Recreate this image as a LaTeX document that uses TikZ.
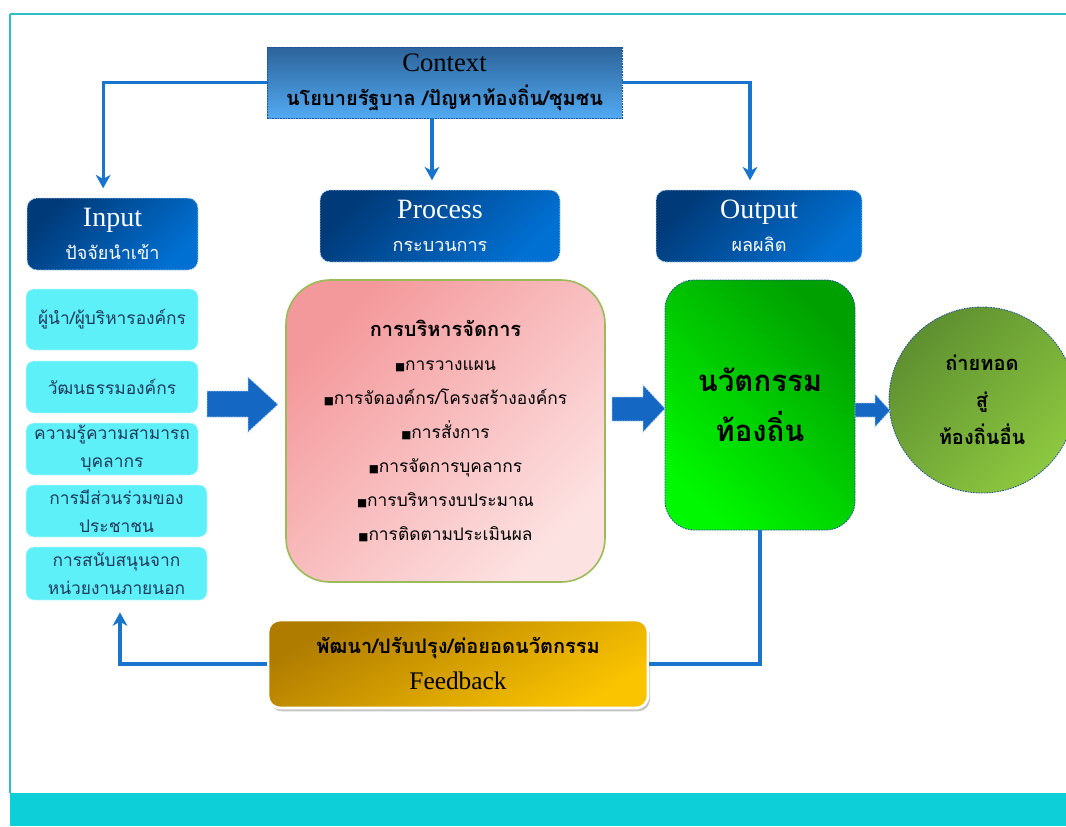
\documentclass[tikz,border=0pt]{standalone}
\usepackage{fontspec}
\setmainfont{Liberation Serif}
\newfontfamily\thfont[Script=Thai]{Loma}
\newfontfamily\sqfont{DejaVu Sans}
\usetikzlibrary{arrows.meta,shadows,calc}

\definecolor{frameteal}{HTML}{2EBFC4}
\definecolor{band}{HTML}{0CCFD8}
\definecolor{flow}{HTML}{1874CD}
\definecolor{blockblue}{HTML}{1468C4}
\definecolor{navy}{HTML}{003A78}
\definecolor{royal}{HTML}{0070D2}
\definecolor{ctxtop}{HTML}{2C6399}
\definecolor{ctxbot}{HTML}{52AAF2}
\definecolor{cyanbox}{HTML}{5EF0F8}
\definecolor{cyantext}{HTML}{1F3A5C}
\definecolor{pinkA}{HTML}{F4999B}
\definecolor{pinkB}{HTML}{FDE2E2}
\definecolor{olive}{HTML}{9BBB59}
\definecolor{greenA}{HTML}{00A000}
\definecolor{greenB}{HTML}{00F800}
\definecolor{leafA}{HTML}{5E9030}
\definecolor{leafB}{HTML}{8DC840}
\definecolor{goldA}{HTML}{B07C00}
\definecolor{goldB}{HTML}{FAC400}
\definecolor{dashblue}{HTML}{1F4E9A}

\newcommand\sqb{{\sqfont\fontsize{8}{8}\selectfont ■}}

\begin{document}
\begin{tikzpicture}[x=0.75pt,y=-0.75pt,
  finedash/.style={dash pattern=on 1.2pt off 0.8pt, line width=0.6pt},
  ctxbox/.style={top color=ctxtop, bottom color=ctxbot, draw=dashblue, finedash,
    align=center, inner sep=0pt,
    font=\fontsize{20}{25.5}\selectfont},
  headbox/.style={rounded corners=7.5pt, top color=navy, bottom color=royal,
    shading angle=45, draw=white!75!royal, finedash, text=white, align=center,
    inner sep=0pt, minimum height=54pt, font=\fontsize{21}{24.5}\selectfont},
  inbox/.style={rounded corners=6pt, fill=cyanbox, draw=white!60!cyanbox, finedash,
    text=cyantext, align=center, inner sep=0pt,
    font=\thfont\fontsize{13}{21}\selectfont},
  procbox/.style={rounded corners=33pt, top color=pinkA, bottom color=pinkB,
    shading angle=45, draw=olive, line width=1.2pt, align=center, inner sep=0pt,
    font=\thfont\fontsize{13}{25.5}\selectfont},
  innobox/.style={rounded corners=22pt, top color=greenA, bottom color=greenB,
    shading angle=-45, draw=dashblue, finedash, align=center, inner sep=0pt,
    font=\thfont\bfseries\fontsize{22}{37.5}\selectfont},
  spreadnode/.style={circle, top color=leafA, bottom color=leafB, shading angle=45,
    draw=dashblue, finedash, align=center, inner sep=0pt,
    font=\thfont\bfseries\fontsize{15}{27.75}\selectfont},
  fbbox/.style={rounded corners=9pt, top color=goldA, bottom color=goldB,
    shading angle=30, draw=white, line width=2pt, align=center, inner sep=0pt,
    drop shadow={shadow xshift=1.5pt, shadow yshift=-2.5pt, opacity=0.45},
    font=\fontsize{19}{27}\selectfont},
  flowline/.style={draw=flow, line width=2.5pt},
  flowarrow/.style={flowline, -{Stealth[length=10pt,width=11pt,inset=3pt]}},
  blockarrow/.style={fill=blockblue, draw=white!70!blockblue, finedash}
]
\useasboundingbox (0,0) rectangle (1066,826);
\fill[white] (0,0) rectangle (1066,826);

% page frame and footer band
\fill[band] (10,793) rectangle (1066,826);
\draw[frameteal, line width=0.8pt] (10,793) -- (10,14);
\draw[frameteal, line width=1.6pt] (9.5,14) -- (1066,14);

% context
\node[ctxbox, minimum width=266.25pt, minimum height=53.25pt] (ctx) at (444.5,82.5)
  {Context\\{\thfont\bfseries\fontsize{15}{25.5}\selectfont นโยบายรัฐบาล /ปัญหาท้องถิ่น/ชุมชน}};

% column heads
\node[headbox, minimum width=128.25pt] (inp) at (112.5,234)
  {Input\\{\thfont\fontsize{13.5}{24.5}\selectfont ปัจจัยนำเข้า}};
\node[headbox, minimum width=180pt] (proch) at (440,226)
  {Process\\{\thfont\fontsize{13.5}{24.5}\selectfont กระบวนการ}};
\node[headbox, minimum width=154.5pt] (outh) at (759,226)
  {Output\\{\thfont\fontsize{13.5}{24.5}\selectfont ผลผลิต}};

% input factors
\node[inbox, minimum width=129pt, minimum height=45.75pt] (in1) at (112,319.5) {ผู้นำ/ผู้บริหารองค์กร};
\node[inbox, minimum width=129pt, minimum height=39pt] (in2) at (112,387) {วัฒนธรรมองค์กร};
\node[inbox, minimum width=129pt, minimum height=39pt] (in3) at (112,449) {ความรู้ความสามารถ\\บุคลากร};
\node[inbox, minimum width=135.75pt, minimum height=39pt] (in4) at (116.5,511) {การมีส่วนร่วมของ\\ประชาชน};
\node[inbox, minimum width=135.75pt, minimum height=39.75pt] (in5) at (116.5,573.5) {การสนับสนุนจาก\\หน่วยงานภายนอก};

% management process
\node[procbox, minimum width=239.25pt, minimum height=226.5pt] (proc) at (445.5,431)
  {{\bfseries\fontsize{15}{25.5}\selectfont การบริหารจัดการ}\\
   \sqb การวางแผน\\
   \sqb การจัดองค์กร/โครงสร้างองค์กร\\
   \sqb การสั่งการ\\
   \sqb การจัดการบุคลากร\\
   \sqb การบริหารงบประมาณ\\
   \sqb การติดตามประเมินผล};

% output
\node[innobox, minimum width=142.5pt, minimum height=187.5pt] (inno) at (760,405)
  {นวัตกรรม\\ท้องถิ่น};
\node[spreadnode, minimum size=139.5pt] (spread) at (982,400)
  {ถ่ายทอด\\สู่\\ท้องถิ่นอื่น};

% feedback
\node[fbbox, minimum width=285pt, minimum height=66pt] (fb) at (458,664)
  {{\thfont\bfseries\fontsize{15}{27}\selectfont พัฒนา/ปรับปรุง/ต่อยอดนวัตกรรม}\\Feedback};

% block arrows between stages
\path[blockarrow] (207,391) -- (248,391) -- (248,377) -- (278,404.5) -- (248,432)
  -- (248,417) -- (207,417) -- cycle;
\path[blockarrow] (612,397) -- (643,397) -- (643,385) -- (665,408.5) -- (643,432)
  -- (643,421) -- (612,421) -- cycle;
\path[blockarrow] (855,403) -- (875,403) -- (875,394) -- (890,410.5) -- (875,427)
  -- (875,417) -- (855,417) -- cycle;

% context flows
\draw[flowarrow, shorten >=7pt] (ctx.west) -| ([xshift=-7pt]inp.north);
\draw[flowarrow, shorten >=7pt] ([xshift=-9.4pt]ctx.south) -- ([xshift=-9.4pt]ctx.south |- proch.north);
\draw[flowarrow, shorten >=7pt] (ctx.east) -| ([xshift=-6.75pt]outh.north);

% feedback loop
\draw[flowline] (inno.south) |- (fb.east);
\draw[flowarrow, shorten >=9pt] (fb.west) -| ([xshift=2.6pt]in5.south);
\end{tikzpicture}
\end{document}
